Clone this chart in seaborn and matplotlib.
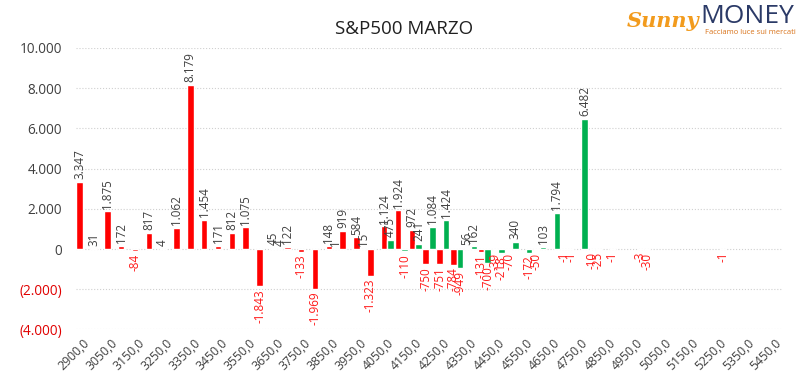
import pandas as pd
import numpy as np
import matplotlib.pyplot as plt
import matplotlib.transforms as mtransforms
import seaborn as sns

# strike prices (categories)
strikes = [2900, 3000] + list(range(3050, 5451, 50))
strike_labels = [f"{s},0" for s in strikes]

# red series
rosso = [3347, 31, 1875, 172, -84, 817, 4, 1062, 8179, 1454,
         171, 812, 1075, -1843, 45, 122, -133, -1969, 148, 919,
         584, -1323, 1124, 1924, 972, -750, -751, -784, 56, -131,
         -39, -70, None, -50, None, -1, None, -10, None, None,
         None, -30, None, None, None, None, None, None, None, None,
         None]
# green series
verde = [None, None, None, None, None, None, None, None, None, None,
         None, None, None, None, 4, None, None, None, 1, None,
         15, None, 475, -110, 241, 1084, 1424, -949, 162, -700,
         -218, 340, -172, 103, 1794, -1, 6482, -25, -1, None,
         -3, None, None, None, None, None, -1, None, None, None,
         None]

y_ticks = [-4000, -2000, 0, 2000, 4000, 6000, 8000, 10000]

rows = []
for lab, r, g in zip(strike_labels, rosso, verde):
    if r is not None:
        rows.append((lab, 'rosso', r))
    if g is not None:
        rows.append((lab, 'verde', g))
df = pd.DataFrame(rows, columns=['strike', 'serie', 'valore'])

sns.set_style('white')
plt.rcParams['font.family'] = ['Open Sans', 'DejaVu Sans']

fig = plt.figure(figsize=(8.11, 3.83), dpi=100)
ax = fig.add_axes([0.0937, 0.1397, 0.8705, 0.735])

sns.barplot(data=df, x='strike', y='valore', hue='serie', order=strike_labels,
            hue_order=['rosso', 'verde'],
            palette={'rosso': '#ff0000', 'verde': '#00b050'},
            saturation=1, width=0.95, errorbar=None, legend=False, ax=ax)


def it_num(v):
    s = f"{abs(v):,.0f}".replace(',', '.')
    return '-' + s if v < 0 else s


for c in ax.containers:
    texts = ax.bar_label(c, fmt=it_num, rotation=90, padding=2,
                         fontsize=8.4, color='#404040')
    for t in texts:
        if t.get_text().startswith('-'):
            t.set_color('#ff1a1a')

ax.set_xlim(-0.5, len(strikes) - 0.5)
ax.set_ylim(-4000, 10000)

ax.set_yticks(y_ticks)
ylabs = []
for v in y_ticks:
    if v < 0:
        ylabs.append('(' + f"{abs(v):,.0f}".replace(',', '.') + ')')
    else:
        ylabs.append(f"{v:,.0f}".replace(',', '.'))
ax.set_yticklabels(ylabs, fontsize=9.8, color='#404040')
for t, v in zip(ax.get_yticklabels(), y_ticks):
    if v < 0:
        t.set_color('#e00000')

ax.set_xticks(range(0, len(strikes), 2))
ax.set_xticklabels(strike_labels[::2], rotation=45, ha='right',
                   rotation_mode='anchor', fontsize=8.8, color='#404040')
# nudge the rotated labels a little to the left, like the original
shift = mtransforms.ScaledTranslation(-4 / 72, 0, fig.dpi_scale_trans)
for t in ax.get_xticklabels():
    t.set_transform(t.get_transform() + shift)
ax.tick_params(axis='both', length=0)
ax.tick_params(axis='y', pad=10)
ax.tick_params(axis='x', pad=5)

ax.yaxis.grid(True, linestyle=':', color='#d0d0d0', linewidth=0.8)
ax.xaxis.grid(False)
ax.set_axisbelow(True)
ax.set_xlabel('')
ax.set_ylabel('')
sns.despine(ax=ax, left=True, bottom=True)

fig.text(0.498, 0.925, 'S&P500 MARZO', ha='center', va='center',
         fontsize=13.5, color='#202020')

# logo
fig.text(0.862, 0.945, 'Sunny', ha='right', va='center', fontsize=15,
         fontweight='bold', style='italic', color='#f29b1d',
         family=['DejaVu Serif'])
fig.text(0.864, 0.958, 'MONEY', ha='left', va='center', fontsize=19,
         color='#2b3a67')
fig.text(0.869, 0.915, 'Facciamo luce sui mercati', ha='left', va='center',
         fontsize=5.5, color='#d9731a')

fig.savefig('out.png', dpi=100)
